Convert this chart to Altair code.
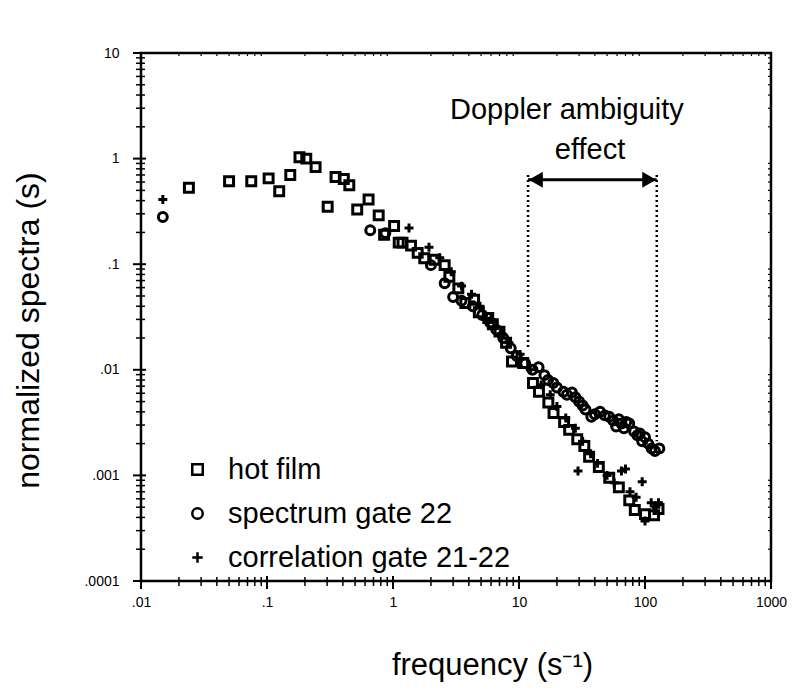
import altair as alt
import pandas as pd

# ---------------- data ----------------
hot_x = [0.024, 0.050, 0.075, 0.103, 0.125, 0.153, 0.181, 0.205, 0.243, 0.303,
         0.350, 0.407, 0.45, 0.52, 0.64, 0.77, 0.85, 1.02, 1.11, 1.19,
         1.39, 1.57, 1.77, 2.14, 2.57, 2.8, 3.3, 3.75, 4.4, 4.8,
         5.7, 6.2, 7.0, 7.9, 8.8, 10.8, 12.9, 14.4, 17.1, 18.8,
         22.8, 25, 29, 33, 36, 43, 52, 62, 75, 83,
         100, 118, 128]
hot_y = [0.53, 0.61, 0.61, 0.65, 0.49, 0.70, 1.03, 1.0, 0.83, 0.35,
         0.67, 0.64, 0.56, 0.33, 0.41, 0.29, 0.19, 0.23, 0.16, 0.16,
         0.15, 0.128, 0.114, 0.11, 0.098, 0.076, 0.059, 0.043, 0.046, 0.035,
         0.031, 0.027, 0.023, 0.018, 0.012, 0.0116, 0.0075, 0.0062, 0.0049, 0.0039,
         0.0032, 0.0027, 0.0022, 0.0019, 0.0015, 0.0012, 0.00095, 0.00077, 0.00058, 0.00047,
         0.00043, 0.00042, 0.00048]

spec_x = [0.0149, 0.66, 0.87, 2.0, 2.57, 3.0, 3.5, 4.3, 5.1, 5.9,
          6.6, 7.5, 8.6, 9.6, 11.2, 12.8, 14.3, 15.9, 17.0, 18.7,
          20.0, 22.5, 24.0, 26.3, 28.0, 30.0, 32.0, 33.7, 37.5, 40.0,
          44.0, 48.0, 52.0, 56.0, 59.0, 62.0, 65.0, 68.0, 71.0, 75.0,
          82.0, 87.0, 91.0, 95.0, 100.0, 106.0, 113.0, 120.0, 130.0]
spec_y = [0.28, 0.21, 0.197, 0.098, 0.066, 0.049, 0.045, 0.040, 0.033, 0.028,
          0.024, 0.020, 0.016, 0.0135, 0.0115, 0.0100, 0.0106, 0.0089, 0.0080, 0.0075,
          0.0068, 0.0062, 0.0058, 0.0061, 0.0055, 0.0050, 0.0046, 0.0042, 0.0036, 0.0038,
          0.0040, 0.0037, 0.0036, 0.0033, 0.0029, 0.0034, 0.0031, 0.0028, 0.0032, 0.0031,
          0.0026, 0.0024, 0.0025, 0.0021, 0.0023, 0.0020, 0.0018, 0.0017, 0.0018]

corr_x = [0.0149, 1.34, 1.93, 2.35, 2.9, 3.5, 4.2, 4.9, 6.0, 7.3,
          8.3, 10.2, 12.3, 15.0, 17.7, 20.0, 23.5, 28.0, 29.4, 32.0,
          37.0, 42.0, 50.0, 57.0, 65.0, 70.0, 76.0, 85.0, 95.0, 100.0,
          112.0, 122.0, 128.0]
corr_y = [0.41, 0.22, 0.145, 0.115, 0.085, 0.062, 0.052, 0.040, 0.030, 0.022,
          0.018, 0.014, 0.0100, 0.0072, 0.0058, 0.0045, 0.0035, 0.0028, 0.0011, 0.0021,
          0.0016, 0.0013, 0.0010, 0.00085, 0.0011, 0.00115, 0.0007, 0.00062, 0.00087, 0.00037,
          0.00055, 0.0005, 0.00055]

series_names = ["hot film", "spectrum gate 22", "correlation gate 21-22"]
series_shapes = ["square", "circle", "M-1,0H1M0,-1V1"]

x_major = [0.01, 0.1, 1, 10, 100, 1000]
x_labels = [".01", ".1", "1", "10", "100", "1000"]
y_major = [0.0001, 0.001, 0.01, 0.1, 1, 10]
y_labels = [".0001", ".001", ".01", ".1", "1", "10"]

# Doppler ambiguity bracket (frequency limits, level of arrow, lower ends)
bracket_x = [11.8, 124]
bracket_top = [0.7, 0.7]
bracket_bottom = [0.0155, 0.0021]
arrow_y = 0.63
arrow_heads_x = [13.6, 108]
arrow_heads_shape = ["triangle-left", "triangle-right"]

annot_text = ["Doppler ambiguity", "effect"]
annot_x = [24, 36.6]
annot_y = [2.9, 1.2]

# ---------------- build tables ----------------
df = pd.concat([
    pd.DataFrame({"f": hot_x, "s": hot_y, "series": series_names[0]}),
    pd.DataFrame({"f": spec_x, "s": spec_y, "series": series_names[1]}),
    pd.DataFrame({"f": corr_x, "s": corr_y, "series": series_names[2]}),
], ignore_index=True)

x_minor = [m * 10 ** k for k in range(-2, 3) for m in range(2, 10)]
y_minor = [m * 10 ** k for k in range(-4, 1) for m in range(2, 10)]

W, H = 630, 528


def label_expr(vals, labs):
    expr = "''"
    for v, l in zip(vals, labs):
        expr = f"abs(datum.value - {v}) < {v}*1e-6 ? '{l}' : " + expr
    return expr


FONT = "Liberation Sans"

xscale = alt.Scale(type="log", domain=[0.01, 1000], nice=False)
yscale = alt.Scale(type="log", domain=[0.0001, 10], nice=False)

xaxis = alt.Axis(values=x_major, labelExpr=label_expr(x_major, x_labels),
                 grid=False, ticks=False, domain=False,
                 labelColor="black",
                 labelFont=FONT, labelFontSize=14, labelPadding=14,
                 labelOverlap=False, labelFlush=False,
                 title="frequency (s\u207b\u00b9)", titleFont=FONT, titleFontSize=31,
                 titleFontWeight="normal", titleColor="black",
                 titleX=351, titleY=84, titleAlign="center", titleBaseline="middle")
yaxis = alt.Axis(values=y_major, labelExpr=label_expr(y_major, y_labels),
                 grid=False, ticks=False, domain=False,
                 labelColor="black",
                 labelFont=FONT, labelFontSize=14, labelPadding=22,
                 labelOverlap=False, labelFlush=False,
                 title="normalized spectra (s)", titleFont=FONT, titleFontSize=32,
                 titleFontWeight="normal", titleColor="black",
                 titleX=-113, titleY=277, titleAngle=-90,
                 titleAlign="center", titleBaseline="middle")

points = alt.Chart(df).mark_point(filled=False, strokeWidth=3, size=80, opacity=1).encode(
    x=alt.X("f:Q", scale=xscale, axis=xaxis),
    y=alt.Y("s:Q", scale=yscale, axis=yaxis),
    shape=alt.Shape("series:N",
                    scale=alt.Scale(domain=series_names, range=series_shapes),
                    legend=alt.Legend(orient="none", legendX=42, legendY=402, title=None,
                                      padding=0, labelFont=FONT, labelFontSize=29,
                                      labelColor="black", labelOffset=16, labelLimit=0,
                                      symbolSize=110, symbolStrokeWidth=2.5,
                                      symbolStrokeColor="black", symbolFillColor="white",
                                      rowPadding=14)),
    color=alt.value("black"),
)

# ---- tick marks drawn through the scales ----
xmaj = pd.DataFrame({"tv": x_major})
xmin = pd.DataFrame({"tv": x_minor})
ymaj = pd.DataFrame({"tv": y_major})
ymin = pd.DataFrame({"tv": y_minor})

x_ticks_major = alt.Chart(xmaj).mark_rule(color="black", strokeWidth=2).encode(
    x="tv:Q", y=alt.value(H - 5), y2=alt.value(H + 8))
x_ticks_minor = alt.Chart(xmin).mark_rule(color="black", strokeWidth=1.5).encode(
    x="tv:Q", y=alt.value(H - 4), y2=alt.value(H + 5))
x_ticks_top = alt.Chart(xmin).mark_rule(color="black", strokeWidth=1.2).encode(
    x="tv:Q", y=alt.value(0), y2=alt.value(3))
y_ticks_major = alt.Chart(ymaj).mark_rule(color="black", strokeWidth=2).encode(
    y="tv:Q", x=alt.value(-8), x2=alt.value(5))
y_ticks_minor = alt.Chart(ymin).mark_rule(color="black", strokeWidth=1.5).encode(
    y="tv:Q", x=alt.value(-5), x2=alt.value(4))
y_ticks_right = alt.Chart(ymin).mark_rule(color="black", strokeWidth=1.2).encode(
    y="tv:Q", x=alt.value(W - 3), x2=alt.value(W))

bracket_df = pd.DataFrame({"f": bracket_x, "top": bracket_top, "bottom": bracket_bottom})
bracket = alt.Chart(bracket_df).mark_rule(color="black", strokeWidth=2.5, strokeDash=[2, 3]).encode(
    x="f:Q", y="top:Q", y2="bottom:Q")

arrow_df = pd.DataFrame({"f": [bracket_x[0]], "f2": [bracket_x[1]], "s": [arrow_y]})
arrow = alt.Chart(arrow_df).mark_rule(color="black", strokeWidth=3).encode(
    x="f:Q", x2="f2:Q", y="s:Q")

heads_df = pd.DataFrame({"f": arrow_heads_x, "s": [arrow_y, arrow_y], "shape": arrow_heads_shape})
heads = alt.Chart(heads_df).mark_point(filled=True, size=260, color="black", opacity=1).encode(
    x="f:Q", y="s:Q", shape=alt.Shape("shape:N", scale=None, legend=None))

annot_df = pd.DataFrame({"t": annot_text, "f": annot_x, "s": annot_y})
annot = alt.Chart(annot_df).mark_text(font=FONT, fontSize=29, color="black",
                                      align="center", baseline="middle").encode(
    x="f:Q", y="s:Q", text="t:N")

chart = alt.layer(points, x_ticks_major, x_ticks_minor, x_ticks_top,
                  y_ticks_major, y_ticks_minor, y_ticks_right,
                  bracket, arrow, heads, annot).resolve_scale(shape="independent").properties(
    width=W, height=H,
    autosize=alt.AutoSizeParams(type="none"),
    padding={"left": 141, "top": 53, "right": 31, "bottom": 111},
    background="white",
).configure_view(stroke="black", strokeWidth=2.5, clip=False)

chart.save("out.html", embed_options={"renderer": "svg", "actions": False})
